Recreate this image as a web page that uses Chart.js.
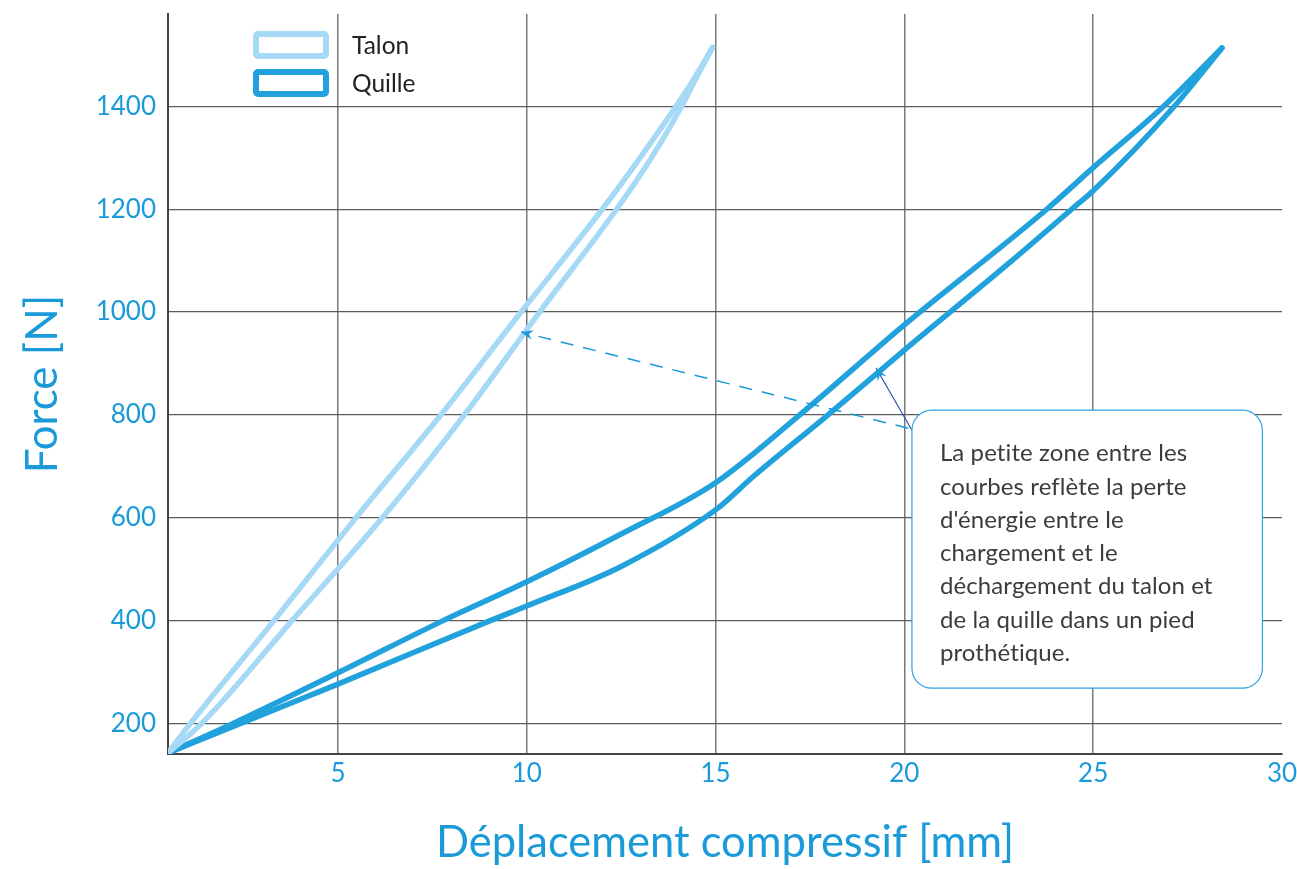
<!DOCTYPE html>
<html lang="fr">
<head>
<meta charset="utf-8">
<script src="https://cdn.jsdelivr.net/npm/chart.js@4.4.1/dist/chart.umd.min.js"></script>
<style>
html, body { margin: 0; padding: 0; background: #fff; }
#wrap { width: 1297px; height: 869px; position: relative; }
</style>
</head>
<body>
<div id="wrap"><canvas id="chart"></canvas></div>
<script>
// axis ticks
const xTickValues = [5, 10, 15, 20, 25, 30]
const yTickValues = [200, 400, 600, 800, 1000, 1200, 1400]

// Talon: upper branch and lower branch of the loop, mm / N
const talonHautX = [0.5, 1.1, 3.31, 5.48, 7.73, 9.85, 12.0, 13.0, 13.95, 14.4, 14.92]
const talonHautF = [142, 200, 400, 600, 800, 1000, 1200, 1300, 1400, 1450, 1515]
const talonBasX = [0.5, 1.4, 3.79, 6.18, 8.35, 10.34, 12.38, 13.3, 14.1, 14.45, 14.92]
const talonBasF = [142, 200, 400, 600, 800, 1000, 1200, 1300, 1400, 1450, 1515]

// Quille
const quilleHautX = [0.5, 2.24, 5, 7.8, 10, 12.5, 15, 17.23, 20, 23.77, 25, 26.86, 28.41]
const quilleHautF = [142, 200, 298, 400, 475, 568, 668, 800, 975, 1200, 1281, 1400, 1514]
const quilleBasX = [0.5, 2.44, 5, 9.05, 10, 12.5, 15, 16, 17.98, 20, 22.8, 24.43, 25, 27.12, 28.41]
const quilleBasF = [142, 200, 276, 400, 428, 505, 615, 680, 800, 926, 1097, 1200, 1236, 1398, 1514]

const seriesNames = ['Talon', 'Quille']
const seriesColors = ['#a5d9f6', '#22a2dc']

const noteLines = [
    'La petite zone entre les',
    'courbes reflète la perte',
    "d'énergie entre le",
    'chargement et le',
    'déchargement du talon et',
    'de la quille dans un pied',
    'prothétique.'
]
// annotation anchors, in data units
const noteBox = { x0: 20.2, x1: 29.48, yTop: 809, yBottom: 268 }
const noteTalonTip = { x: 9.85, y: 961 }
const noteTalonTail = { x: 20.1, y: 774 }
const noteQuilleTip = { x: 19.25, y: 891 }
const noteQuilleTail = { x: 20.2, y: 770 }

const blue = '#1a9ad9'
const font = 'Lato'

function toPoints(xs, ys) {
    return xs.map((x, i) => ({ x: x, y: ys[i] }))
}

function branch(label, xs, ys, color) {
    return {
        label: label,
        data: toPoints(xs, ys),
        borderColor: color,
        backgroundColor: color,
        borderWidth: 5.5,
        borderCapStyle: 'round',
        borderJoinStyle: 'round',
        pointRadius: 0,
        cubicInterpolationMode: 'monotone',
        fill: false
    }
}

function arrowHead(ctx, fx, fy, tx, ty, color) {
    const a = Math.atan2(ty - fy, tx - fx)
    ctx.save()
    ctx.translate(tx, ty)
    ctx.rotate(a)
    ctx.beginPath()
    ctx.moveTo(0, 0)
    ctx.lineTo(-12, -5)
    ctx.lineTo(-8, 0)
    ctx.lineTo(-12, 5)
    ctx.closePath()
    ctx.fillStyle = color
    ctx.fill()
    ctx.restore()
}

const annotationPlugin = {
    id: 'annotationPlugin',
    afterDatasetsDraw(chart) {
        const ctx = chart.ctx
        const xs = chart.scales.x
        const ys = chart.scales.y
        const px = v => xs.getPixelForValue(v)
        const py = v => ys.getPixelForValue(v)

        // dashed arrow to Talon
        const t0 = [px(noteTalonTail.x), py(noteTalonTail.y)]
        const t1 = [px(noteTalonTip.x), py(noteTalonTip.y)]
        ctx.save()
        ctx.strokeStyle = blue
        ctx.lineWidth = 1.5
        ctx.setLineDash([13, 10])
        ctx.beginPath()
        ctx.moveTo(t0[0], t0[1])
        ctx.lineTo(t1[0], t1[1])
        ctx.stroke()
        ctx.restore()
        arrowHead(ctx, t0[0], t0[1], t1[0], t1[1], blue)

        // solid arrow to Quille
        const q0 = [px(noteQuilleTail.x), py(noteQuilleTail.y)]
        const q1 = [px(noteQuilleTip.x), py(noteQuilleTip.y)]
        ctx.save()
        ctx.strokeStyle = '#2a56a6'
        ctx.lineWidth = 1.2
        ctx.beginPath()
        ctx.moveTo(q0[0], q0[1])
        ctx.lineTo(q1[0], q1[1])
        ctx.stroke()
        ctx.restore()
        arrowHead(ctx, q0[0], q0[1], q1[0], q1[1], blue)

        // box with text
        const bx = px(noteBox.x0)
        const bx1 = px(noteBox.x1)
        const by = py(noteBox.yTop)
        const by1 = py(noteBox.yBottom)
        ctx.save()
        ctx.beginPath()
        ctx.roundRect(bx, by, bx1 - bx, by1 - by, 20)
        ctx.fillStyle = '#ffffff'
        ctx.fill()
        ctx.strokeStyle = '#2aa3e0'
        ctx.lineWidth = 1.2
        ctx.stroke()
        ctx.fillStyle = '#3c3c3c'
        ctx.font = '24px ' + font
        ctx.letterSpacing = '0.1px' // keeps "ti" from turning into a ligature
        ctx.textAlign = 'left'
        ctx.textBaseline = 'alphabetic'
        noteLines.forEach((line, i) => {
            ctx.fillText(line, bx + 28, by + 51 + i * 33.3)
        })
        ctx.restore()

        // legend
        ctx.save()
        seriesNames.forEach((name, i) => {
            const top = 31 + i * 38
            ctx.beginPath()
            ctx.roundRect(256, top + 3, 70, 22, 2)
            ctx.strokeStyle = seriesColors[i]
            ctx.lineWidth = 6
            ctx.stroke()
            ctx.fillStyle = '#222222'
            ctx.font = '24.5px ' + font
            ctx.textAlign = 'left'
            ctx.textBaseline = 'middle'
            ctx.fillText(name, 352, top + 15)
        })
        ctx.restore()
    }
}

const chart = new Chart(document.getElementById('chart').getContext('2d'), {
    type: 'line',
    data: {
        datasets: [
            branch('Talon', talonHautX, talonHautF, seriesColors[0]),
            branch('Talon (bas)', talonBasX, talonBasF, seriesColors[0]),
            branch('Quille', quilleHautX, quilleHautF, seriesColors[1]),
            branch('Quille (bas)', quilleBasX, quilleBasF, seriesColors[1])
        ]
    },
    options: {
        responsive: true,
        maintainAspectRatio: false,
        animation: false,
        layout: { padding: { top: 14, right: 15, left: 0, bottom: 0 } },
        plugins: {
            legend: { display: false },
            tooltip: { enabled: false }
        },
        scales: {
            x: {
                type: 'linear',
                min: 0.5,
                max: 30,
                afterBuildTicks: scale => { scale.ticks = xTickValues.map(v => ({ value: v })) },
                afterFit: scale => {
                    scale.height = 115
                    scale.paddingLeft = 0
                    scale.paddingRight = 0
                },
                ticks: {
                    color: blue,
                    font: { family: font, size: 26 },
                    padding: 4,
                    maxRotation: 0,
                    autoSkip: false,
                    callback: v => String(v)
                },
                grid: {
                    color: c => (c.tick && c.tick.value === 30) ? 'rgba(0,0,0,0)' : '#767a7d',
                    lineWidth: 1.5,
                    drawTicks: false
                },
                border: { display: true, color: '#444444', width: 2 },
                title: {
                    display: true,
                    text: 'Déplacement compressif [mm]',
                    color: blue,
                    font: { family: font, size: 43.5 },
                    padding: { top: 0, bottom: 0 }
                }
            },
            y: {
                type: 'linear',
                min: 140,
                max: 1580,
                afterBuildTicks: scale => { scale.ticks = yTickValues.map(v => ({ value: v })) },
                afterFit: scale => {
                    scale.width = 168
                    scale.paddingTop = 0
                    scale.paddingBottom = 0
                },
                ticks: {
                    color: blue,
                    font: { family: font, size: 26 },
                    padding: 12,
                    autoSkip: false,
                    callback: v => String(v)
                },
                grid: {
                    color: '#5c5c5c',
                    lineWidth: 1.3,
                    drawTicks: false
                },
                border: { display: true, color: '#444444', width: 2 },
                title: {
                    display: true,
                    text: 'Force [N]',
                    color: blue,
                    font: { family: font, size: 44 },
                    padding: { top: 16, bottom: 0 }
                }
            }
        }
    },
    plugins: [annotationPlugin]
})
</script>
</body>
</html>
